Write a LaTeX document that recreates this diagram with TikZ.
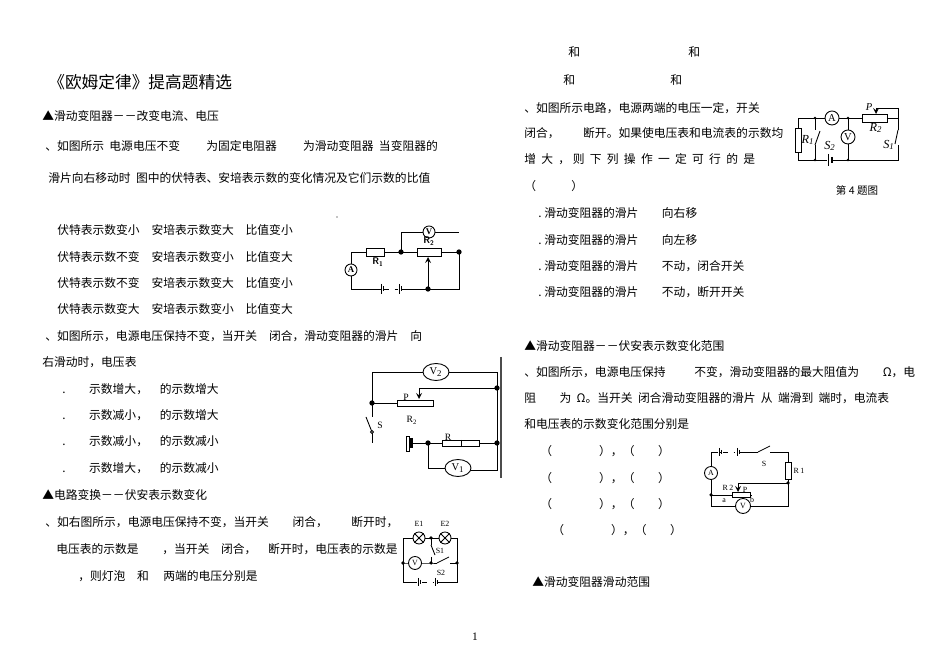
\documentclass[tikz,border=0pt]{standalone}
\usepackage{fontspec}
\usetikzlibrary{shapes.geometric}
\setmainfont{Noto Sans CJK SC}
\newfontfamily\lat{Liberation Serif}
\begin{document}
\begin{tikzpicture}[x=0.02cm,y=-0.02cm,
  tx/.style={anchor=west,inner sep=0pt,font=\fontsize{6.7}{8}\selectfont},
  w/.style={line width=0.5pt},
  meter/.style={circle,draw,line width=0.5pt,fill=white,inner sep=0pt,minimum size=12*0.02cm,font=\lat\fontsize{5}{5}\selectfont},
  res/.style={rectangle,draw,line width=0.5pt,fill=white,inner sep=0pt},
  dotc/.style={circle,fill,inner sep=0pt,minimum size=3pt},
  lab/.style={inner sep=0pt,font=\lat\fontsize{5.5}{6}\selectfont}]
\useasboundingbox (0,0) rectangle (950,671);
\fill[white] (0,0) rectangle (950,671);
% ---------- left column texts
\node[tx,font=\fontsize{9.5}{10}\selectfont] (title) at (48,82) {《欧姆定律》提高题精选};
\node[tx] (h1) at (42,116) {▲滑动变阻器－－改变电流、电压};
\node[tx] (q1a) at (45,146) {、如图所示\ \ 电源电压不变\qquad\ 为固定电阻器\qquad\ 为滑动变阻器\ \ 当变阻器的};
\node[tx] (q1b) at (48,178) {滑片向右移动时\ \ 图中的伏特表、安培表示数的变化情况及它们示数的比值};
\node[tx] (o1) at (57,230) {伏特表示数变小\quad 安培表示数变大\quad 比值变小};
\node[tx] (o2) at (57,257) {伏特表示数不变\quad 安培表示数变小\quad 比值变大};
\node[tx] (o3) at (57,283) {伏特表示数不变\quad 安培表示数变大\quad 比值变小};
\node[tx] (o4) at (57,309) {伏特表示数变大\quad 安培表示数变小\quad 比值变大};
\node[tx] (q2a) at (45,336) {、如图所示，电源电压保持不变，当开关\quad 闭合，滑动变阻器的滑片\quad 向};
\node[tx] (q2b) at (42,362) {右滑动时，电压表};
\node[tx] (p1) at (62,389) {.\qquad 示数增大，\quad 的示数增大};
\node[tx] (p2) at (62,415) {.\qquad 示数减小，\quad 的示数增大};
\node[tx] (p3) at (62,441) {.\qquad 示数减小，\quad 的示数减小};
\node[tx] (p4) at (62,468) {.\qquad 示数增大，\quad 的示数减小};
\node[tx] (h2) at (42,495) {▲电路变换－－伏安表示数变化};
\node[tx] (q3a) at (45,522) {、如右图所示，电源电压保持不变，当开关\qquad 闭合，\qquad 断开时，};
\node[tx] (q3b) at (56,549) {电压表的示数是\qquad ，当开关\quad 闭合，\quad 断开时，电压表的示数是};
\node[tx] (q3c) at (78,576) {，则灯泡\quad 和\quad\ 两端的电压分别是};
\node[lab,font=\lat\fontsize{6.5}{7}\selectfont] (pg) at (475,637) {1};
% ---------- right column texts
\node[tx] (r1) at (568,52) {和};
\node[tx] (r2) at (688,52) {和};
\node[tx] (r3) at (563,80) {和};
\node[tx] (r4) at (670,80) {和};
\node[tx] (q4a) at (524,108) {、如图所示电路，电源两端的电压一定，开关};
\node[tx] (q4b) at (524,133) {闭合，\qquad 断开。如果使电压表和电流表的示数均};
\node[tx] (q4c) at (524,159) {增\ \ 大\ \ ，\ 则\ \ 下\ \ 列\ \ 操\ \ 作\ \ 一\ \ 定\ \ 可\ \ 行\ \ 的\ \ 是};
\node[tx] (q4d) at (524,186) {（\qquad\quad ）};
\node[anchor=center,inner sep=0pt,font=\fontsize{6}{7}\selectfont] (cap) at (857,190) {第 4 题图};
\node[tx] (s1) at (538,213) {.\ 滑动变阻器的滑片\qquad 向右移};
\node[tx] (s2) at (538,240) {.\ 滑动变阻器的滑片\qquad 向左移};
\node[tx] (s3) at (538,266) {.\ 滑动变阻器的滑片\qquad 不动，闭合开关};
\node[tx] (s4) at (538,292) {.\ 滑动变阻器的滑片\qquad 不动，断开开关};
\node[tx] (h3) at (524,346) {▲滑动变阻器－－伏安表示数变化范围};
\node[tx] (q5a) at (524,372) {、如图所示，电源电压保持\qquad\ \ 不变，滑动变阻器的最大阻值为\qquad Ω，电};
\node[tx] (q5b) at (524,398) {阻\qquad 为\ \ Ω。当开关\ \ 闭合滑动变阻器的滑片\ \ 从\ \ 端滑到\ \ 端时，电流表};
\node[tx] (q5c) at (524,424) {和电压表的示数变化范围分别是};
\node[tx] (u1) at (540,451) {（\qquad\qquad ），（\qquad ）};
\node[tx] (u2) at (540,478) {（\qquad\qquad ），（\qquad ）};
\node[tx] (u3) at (540,504) {（\qquad\qquad ），（\qquad ）};
\node[tx] (u4) at (552,530) {（\qquad\qquad ），（\qquad ）};
\node[tx] (h4) at (532,582) {▲滑动变阻器滑动范围};
\node[circle,fill,inner sep=0pt,minimum size=0.6pt] (dt) at (337,217) {};
% ---------- circuit 1
\draw[w] (351,252) -- (459,252) -- (459,289) -- (351,289) -- cycle;
\draw[w] (401,252) -- (401,232) -- (459,232);
\node[meter] (A1) at (351,270) {\textbf{A}};
\node[meter] (V1) at (429,232) {\textbf{V}};
\node[res,minimum width=18*0.02cm,minimum height=8*0.02cm] (R1a) at (375,252) {};
\node[res,minimum width=24*0.02cm,minimum height=8*0.02cm] (R2a) at (429,252) {};
\node[lab,font=\sffamily\bfseries\fontsize{5.5}{6}\selectfont] at (378,262) {R\textsubscript{1}};
\node[lab,font=\sffamily\bfseries\fontsize{5.5}{6}\selectfont] at (429,241) {R\textsubscript{2}};
\fill[white] (381,285) rectangle (401,293);
\draw[w] (381,284) -- (381,294) (383,286.5) -- (383,291.5) (399,284) -- (399,294) (401,286.5) -- (401,291.5);
\draw[w,dashed] (384,289) -- (398,289);
\draw[w,->,>=stealth] (428,289) -- (428,257);
\node[dotc] at (401,252) {}; \node[dotc] at (459,252) {}; \node[dotc] at (428,289) {};
% ---------- circuit 2
\draw[w] (372,403) -- (372,372) -- (497,372) -- (497,470) -- (458,470);
\draw[w] (458,468) -- (428,468) -- (428,443) -- (408,443);
\draw[w] (412,443) -- (497,443);
\draw[w] (372,403) -- (397,403);
\draw[w] (497,388) -- (419,388);
\draw[w,->,>=stealth] (419,388) -- (419,399);
\draw[line width=0.7pt,gray!60!black] (501,357) -- (501,478);
\draw[w] (372,403) -- (372,417) (372,432) -- (372,443);
\draw[w] (372,432) -- (366,417);
\draw[w,fill=white] (372,432) circle (1.5);
\node[res,minimum width=36*0.02cm,minimum height=6*0.02cm] (R2b) at (415,403) {};
\node[res,minimum width=37*0.02cm,minimum height=6*0.02cm] (Rb) at (461,443) {};
\draw[w] (461,440) -- (461,446);
\draw[line width=0.5pt,fill=white] (406,436) rectangle (409.5,451);
\draw[line width=1.2pt] (411.5,438) -- (411.5,448);
\node[meter,ellipse,minimum width=26*0.02cm,minimum height=17*0.02cm,font=\lat\fontsize{6}{6}\selectfont] (V2b) at (436,372) {V\textsubscript{2}};
\node[meter,ellipse,minimum width=26*0.02cm,minimum height=17*0.02cm,font=\lat\fontsize{6}{6}\selectfont] (V1b) at (458,468) {V\textsubscript{1}};
\node[lab] at (406,397) {P};
\node[lab] at (380,425) {S};
\node[lab] at (412,420) {R\textsubscript{2}};
\node[lab] at (448,437) {R};
\node[dotc] at (372,403) {}; \node[dotc] at (497,388) {}; \node[dotc] at (497,443) {}; \node[dotc] at (428,443) {};
% ---------- circuit 3
\draw[w] (798,118) -- (862,118) (887,118) -- (898,118);
\draw[w] (898,108) -- (898,160) -- (798,160) -- (798,118);
\draw[w] (876,108) -- (898,108);
\draw[w,->,>=stealth] (876,108) -- (876,114);
\draw[w] (815,118) -- (815,130) (815,145) -- (815,160);
\draw[w] (815,145) -- (820,131);
\draw[w] (848,118) -- (848,160);
\fill[white] (895,128) rectangle (901,145);
\draw[w] (898,130) -- (895,144);
\draw[w] (898,128) -- (898,130);
\fill[white] (827,155) rectangle (833,165);
\draw[w] (828,154) -- (828,166); \draw[line width=1pt] (832,157) -- (832,163);
\node[res,minimum width=6*0.02cm,minimum height=24*0.02cm] (R1c) at (798,140) {};
\node[res,minimum width=25*0.02cm,minimum height=8*0.02cm] (R2c) at (874.5,118) {};
\node[meter,minimum size=14*0.02cm,font=\lat\fontsize{6}{6}\selectfont] (Ac) at (832,118) {A};
\node[meter,minimum size=14*0.02cm,font=\lat\fontsize{6}{6}\selectfont] (Vc) at (848,137) {V};
\node[lab,font=\lat\itshape\fontsize{7}{7}\selectfont] at (808,140) {R\textsubscript{1}};
\node[lab,font=\lat\itshape\fontsize{7}{7}\selectfont] at (830,146) {S\textsubscript{2}};
\node[lab,font=\lat\itshape\fontsize{7}{7}\selectfont] at (876,128) {R\textsubscript{2}};
\node[lab,font=\lat\itshape\fontsize{7}{7}\selectfont] at (889,145) {S\textsubscript{1}};
\node[lab,font=\lat\itshape\fontsize{6}{6}\selectfont] at (869,107) {P};
\node[circle,fill,inner sep=0pt,minimum size=1.5pt] at (815,160) {};
\node[circle,fill,inner sep=0pt,minimum size=1.5pt] at (848,160) {};
\node[circle,fill,inner sep=0pt,minimum size=1.5pt] at (848,118) {};
\node[circle,fill,inner sep=0pt,minimum size=1.5pt] at (815,118) {};
% ---------- circuit 4
\draw[w] (711,506) -- (711,452) -- (718,452) (740,452) -- (758,452);
\draw[w] (758,452) -- (770,446);
\draw[w] (770,452) -- (788,452) -- (788,506) -- (711,506);
\draw[w] (711,495) -- (732,495) (750,495) -- (752,495);
\draw[w] (788,483) -- (738,483);
\draw[w,->,>=stealth] (738,483) -- (738,492);
\draw[w] (719,448) -- (719,456) (721,450) -- (721,454) (737,448) -- (737,456) (739,450) -- (739,454);
\draw[w] (719,452) -- (721,452) (739,452) -- (740,452);
\draw[w,dashed] (723,452) -- (735,452);
\node[res,minimum width=6*0.02cm,minimum height=17*0.02cm] (R1d) at (788,471) {};
\node[res,minimum width=18*0.02cm,minimum height=5*0.02cm] (R2d) at (741,495) {};
\node[meter,minimum size=13*0.02cm,font=\lat\fontsize{4.5}{5}\selectfont] (Ad) at (711,473) {A};
\node[meter,minimum size=15*0.02cm,font=\lat\fontsize{4.5}{5}\selectfont] (Vd) at (743,506) {V};
\node[lab,font=\lat\fontsize{4.5}{5}\selectfont] at (764,464) {S};
\node[lab,font=\lat\fontsize{4.5}{5}\selectfont] at (799,471) {R\,1};
\node[lab,font=\lat\fontsize{4.5}{5}\selectfont] at (728,488) {R\,2};
\node[lab,font=\lat\fontsize{4.5}{5}\selectfont] at (745,490) {P};
\node[lab,font=\lat\fontsize{4.5}{5}\selectfont] at (724,501) {a};
\node[lab,font=\lat\fontsize{4.5}{5}\selectfont] at (752,500) {b};
\node[circle,fill,inner sep=0pt,minimum size=2pt] at (711,495) {};
\node[circle,fill,inner sep=0pt,minimum size=2pt] at (788,483) {};
% ---------- circuit 5
\draw[w] (403,582) -- (403,538) -- (457,538) -- (457,582) -- (417,582);
\draw[w] (437,582) -- (403,582);
\draw[w] (403,563) -- (431,563) -- (437,563) (450,563) -- (457,563);
\draw[w] (437,563) -- (449,557);
\draw[w] (431,538) -- (431,545) (431,557) -- (431,563);
\draw[w] (431,545) -- (435,555);
\fill[white] (417,577) rectangle (438,587);
\draw[w] (418,578) -- (418,586) (420,580) -- (420,584) (435,578) -- (435,586) (437,580) -- (437,584);
\draw[w,dashed] (422,582) -- (433,582);
\node[meter,minimum size=12*0.02cm] (E1) at (419,538) {};
\node[meter,minimum size=12*0.02cm] (E2) at (445,538) {};
\draw[w] (E1.north west) -- (E1.south east) (E1.north east) -- (E1.south west);
\draw[w] (E2.north west) -- (E2.south east) (E2.north east) -- (E2.south west);
\node[meter,minimum size=13*0.02cm,font=\lat\fontsize{4.5}{5}\selectfont] (Ve) at (415,563) {V};
\node[lab,font=\lat\fontsize{4.5}{5}\selectfont] at (419,524) {E1};
\node[lab,font=\lat\fontsize{4.5}{5}\selectfont] at (445,524) {E2};
\node[lab,font=\lat\fontsize{4.5}{5}\selectfont] at (440,551) {S1};
\node[lab,font=\lat\fontsize{4.5}{5}\selectfont] at (441,573) {S2};
\foreach \p in {(403,563),(431,563),(457,563),(431,538)} \node[circle,fill,inner sep=0pt,minimum size=2pt] at \p {};
\end{tikzpicture}
\end{document}
